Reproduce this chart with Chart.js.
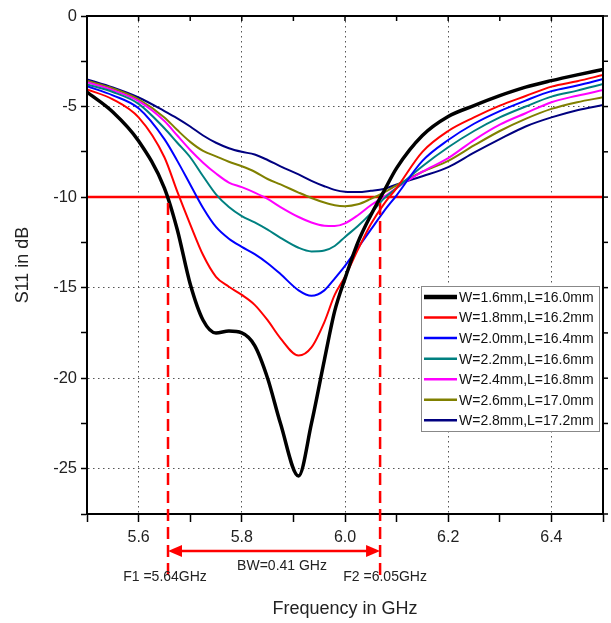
<!DOCTYPE html>
<html lang="en">
<head>
  <meta charset="UTF-8">
  <title>S11 vs Frequency</title>
  <script src="https://cdn.jsdelivr.net/npm/chart.js"></script>
  <style>
    html, body { margin: 0; padding: 0; background: #fff; }
    #wrap { width: 611px; height: 623px; position: relative; }
  </style>
</head>
<body>
  <div id="wrap"><canvas id="s11Chart"></canvas></div>
  <script>
    // frequency grid (GHz) shared by all curves
    const freqGHz = [5.5, 5.55, 5.6, 5.65, 5.675, 5.7, 5.725, 5.75, 5.775, 5.8, 5.825, 5.85, 5.875, 5.91, 5.935,
                     5.96, 5.98, 6.0, 6.025, 6.05, 6.075, 6.1, 6.15, 6.2, 6.25, 6.3, 6.35, 6.4, 6.45, 6.5];
    // S11 (dB)
    const s11W16 = [-4.2, -5.3, -6.9, -9.5, -11.8, -14.8, -16.8, -17.5, -17.4, -17.5, -18.2, -20.0, -22.5, -25.4, -22.5,
                    -19.0, -16.3, -14.5, -12.5, -11.0, -9.7, -8.4, -6.6, -5.55, -4.95, -4.4, -3.93, -3.57, -3.25, -2.95];
    const s11W18 = [-4.05, -4.6, -5.6, -7.8, -9.7, -11.5, -13.2, -14.4, -14.95, -15.4, -15.95, -16.8, -17.8, -18.75, -18.3,
                    -16.9, -15.4, -14.4, -12.9, -11.5, -10.4, -9.5, -7.5, -6.35, -5.6, -4.95, -4.42, -3.9, -3.6, -3.26];
    const s11W20 = [-3.88, -4.38, -5.1, -6.8, -8.0, -9.3, -10.6, -11.65, -12.3, -12.75, -13.15, -13.65, -14.25, -15.15, -15.45,
                    -15.15, -14.5, -13.8, -12.8, -11.8, -10.8, -9.9, -8.0, -6.85, -5.95, -5.25, -4.67, -4.15, -3.84, -3.48];
    const s11W22 = [-3.78, -4.2, -4.85, -6.2, -7.0, -7.8, -8.85, -9.85, -10.55, -11.05, -11.4, -11.8, -12.25, -12.8, -13.0,
                    -12.95, -12.7, -12.2, -11.6, -10.9, -10.1, -9.5, -8.3, -7.25, -6.35, -5.6, -5.0, -4.45, -4.12, -3.76];
    const s11W24 = [-3.66, -4.1, -4.7, -5.8, -6.6, -7.4, -8.1, -8.7, -9.2, -9.45, -9.75, -10.1, -10.55, -11.1, -11.4,
                    -11.58, -11.6, -11.45, -11.0, -10.45, -10.0, -9.5, -8.6, -7.85, -6.85, -6.0, -5.37, -4.76, -4.4, -4.09];
    const s11W26 = [-3.58, -4.0, -4.6, -5.6, -6.3, -6.95, -7.45, -7.75, -8.05, -8.3, -8.6, -9.0, -9.3, -9.75, -10.05,
                    -10.3, -10.45, -10.5, -10.4, -10.1, -9.75, -9.35, -8.6, -8.0, -7.15, -6.35, -5.68, -5.13, -4.76, -4.49];
    const s11W28 = [-3.5, -3.95, -4.5, -5.25, -5.65, -6.1, -6.6, -7.0, -7.3, -7.5, -7.65, -7.95, -8.3, -8.75, -9.1,
                    -9.4, -9.6, -9.7, -9.72, -9.65, -9.55, -9.3, -8.85, -8.35, -7.55, -6.8, -6.1, -5.6, -5.2, -4.92];

    const seriesLabels = ["W=1.6mm,L=16.0mm", "W=1.8mm,L=16.2mm", "W=2.0mm,L=16.4mm", "W=2.2mm,L=16.6mm",
                          "W=2.4mm,L=16.8mm", "W=2.6mm,L=17.0mm", "W=2.8mm,L=17.2mm"];
    const seriesValues = [s11W16, s11W18, s11W20, s11W22, s11W24, s11W26, s11W28];

    // axis ticks and annotation values
    const xLabelTicks = ["5.6", "5.8", "6.0", "6.2", "6.4"];
    const yLabelTicks = ["0", "-5", "-10", "-15", "-20", "-25"];
    const thresholdDb = -10;
    const f1Line = 5.657;
    const f2Line = 6.068;
    const f1Text = "F1 =5.64GHz";
    const f2Text = "F2 =6.05GHz";
    const bwText = "BW=0.41 GHz";

    const colors = ["#000000", "#ff0000", "#0000ff", "#008080", "#ff00ff", "#808000", "#000080"];
    const FONT = "'Liberation Sans', Arial, sans-serif";
    Chart.defaults.font.family = FONT;
    Chart.defaults.color = "#111";

    const datasets = seriesValues.map((vals, i) => ({
      label: seriesLabels[i],
      data: vals.map((v, j) => ({ x: freqGHz[j], y: v })),
      borderColor: colors[i],
      borderWidth: i === 0 ? 3.5 : 2,
      pointRadius: 0,
      cubicInterpolationMode: "monotone",
      fill: false
    }));
    datasets.push({
      label: "-10 dB",
      data: [{ x: 5.5, y: thresholdDb }, { x: 6.5, y: thresholdDb }],
      borderColor: "#ff0000",
      borderWidth: 2.5,
      pointRadius: 0
    });

    const isLabelX = (v) => xLabelTicks.includes(v.toFixed(1));
    const isLabelY = (v) => yLabelTicks.includes(String(Math.round(v * 10) / 10));

    const extras = {
      id: "extras",
      afterDraw(chart) {
        const { ctx, chartArea: a, scales: { x, y } } = chart;
        ctx.save();
        // frame
        ctx.strokeStyle = "#000";
        ctx.lineWidth = 2;
        ctx.strokeRect(a.left, a.top, a.right - a.left, a.bottom - a.top);
        // ticks on top and right
        ctx.lineWidth = 1.5;
        x.ticks.forEach(t => {
          const px = x.getPixelForValue(t.value);
          ctx.beginPath(); ctx.moveTo(px, a.top); ctx.lineTo(px, a.top + 5); ctx.stroke();
        });
        y.ticks.forEach(t => {
          const py = y.getPixelForValue(t.value);
          ctx.beginPath(); ctx.moveTo(a.right, py); ctx.lineTo(a.right + 5, py); ctx.stroke();
        });

        // dashed markers for F1 / F2
        const x1 = x.getPixelForValue(f1Line);
        const x2 = x.getPixelForValue(f2Line);
        const yt = y.getPixelForValue(thresholdDb);
        ctx.strokeStyle = "#ff0000";
        ctx.lineWidth = 2.5;
        ctx.setLineDash([12, 6]);
        [x1, x2].forEach(px => {
          ctx.beginPath(); ctx.moveTo(px, yt + 6); ctx.lineTo(px, a.bottom + 64); ctx.stroke();
        });
        ctx.setLineDash([]);

        // double arrow
        const ya = a.bottom + 37;
        ctx.lineWidth = 2.5;
        ctx.beginPath(); ctx.moveTo(x1 + 10, ya); ctx.lineTo(x2 - 10, ya); ctx.stroke();
        ctx.fillStyle = "#ff0000";
        ctx.beginPath(); ctx.moveTo(x1, ya); ctx.lineTo(x1 + 14, ya - 6); ctx.lineTo(x1 + 14, ya + 6); ctx.closePath(); ctx.fill();
        ctx.beginPath(); ctx.moveTo(x2, ya); ctx.lineTo(x2 - 14, ya - 6); ctx.lineTo(x2 - 14, ya + 6); ctx.closePath(); ctx.fill();

        // annotation texts
        ctx.fillStyle = "#222";
        ctx.font = "14px " + FONT;
        ctx.textAlign = "center";
        ctx.textBaseline = "middle";
        ctx.fillText(bwText, (x1 + x2) / 2 + 8, a.bottom + 52);
        ctx.fillText(f1Text, x1 - 3, a.bottom + 63);
        ctx.fillText(f2Text, x2 + 5, a.bottom + 63);

        // legend box inside plot
        const lw = 178, lh = 145;
        const lx = a.right - 4 - lw, ly = a.top + 270;
        ctx.fillStyle = "#fff";
        ctx.fillRect(lx, ly, lw, lh);
        ctx.strokeStyle = "#888";
        ctx.lineWidth = 1;
        ctx.strokeRect(lx + 0.5, ly + 0.5, lw, lh);
        ctx.textAlign = "left";
        ctx.font = "14px " + FONT;
        seriesLabels.forEach((lab, i) => {
          const cy = ly + 11 + i * 20.55;
          ctx.strokeStyle = colors[i];
          ctx.lineWidth = i === 0 ? 4.5 : 2.5;
          ctx.beginPath(); ctx.moveTo(lx + 3, cy); ctx.lineTo(lx + 36, cy); ctx.stroke();
          ctx.fillStyle = "#111";
          ctx.fillText(lab, lx + 38, cy + 1);
        });
        ctx.restore();
      }
    };

    new Chart(document.getElementById("s11Chart"), {
      type: "line",
      data: { datasets },
      options: {
        responsive: true,
        maintainAspectRatio: false,
        animation: false,
        devicePixelRatio: 1,
        layout: { padding: { top: 16, right: 8, bottom: 0, left: 0 } },
        plugins: { legend: { display: false }, tooltip: { enabled: false } },
        scales: {
          x: {
            type: "linear",
            min: 5.5, max: 6.5,
            afterFit: (s) => { s.height = 109; },
            ticks: {
              stepSize: 0.1,
              autoSkip: false,
              maxRotation: 0,
              padding: 6,
              font: { size: 16 },
              color: "#222",
              callback: (v) => isLabelX(v) ? v.toFixed(1) : ""
            },
            grid: {
              color: (c) => (c.tick && isLabelX(c.tick.value)) ? "#555" : "rgba(0,0,0,0)",
              tickColor: "#000",
              tickLength: 8,
              tickWidth: 1.5,
              lineWidth: 1
            },
            border: { display: true, color: "#000", width: 2, dash: [1.5, 3.5] },
            title: { display: true, text: "Frequency in GHz", font: { size: 18 }, color: "#222", padding: { top: 0, bottom: 3 } }
          },
          y: {
            min: -27.5, max: 0,
            afterFit: (s) => { s.width = 87; },
            ticks: {
              stepSize: 2.5,
              autoSkip: false,
              padding: 4,
              font: { size: 16.5 },
              color: "#222",
              callback: (v) => isLabelY(v) ? String(v) : ""
            },
            grid: {
              color: (c) => (c.tick && isLabelY(c.tick.value) && c.tick.value !== 0) ? "#555" : "rgba(0,0,0,0)",
              tickColor: "#000",
              tickLength: 6,
              tickWidth: 1.5,
              lineWidth: 1
            },
            border: { display: true, color: "#000", width: 2, dash: [1.5, 3.5] },
            title: { display: true, text: "S11 in dB", font: { size: 18 }, color: "#222", padding: { top: 12, bottom: 0 } }
          }
        }
      },
      plugins: [extras]
    });
  </script>
</body>
</html>
